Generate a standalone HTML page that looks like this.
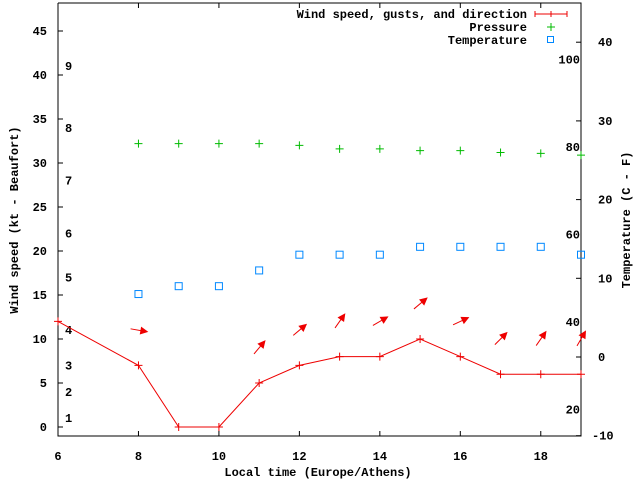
<!DOCTYPE html>
<html><head><meta charset="utf-8"><style>
body{margin:0;background:#fff}
text{font-family:"Liberation Mono",monospace;font-weight:bold;font-size:12px;fill:#000}
</style></head><body>
<svg id="c" width="640" height="480" xmlns="http://www.w3.org/2000/svg">
<g id="axes"></g><g id="marks"></g>
<text x="318" y="476" text-anchor="middle">Local time (Europe/Athens)</text>
<text transform="translate(18,220) rotate(-90)" text-anchor="middle">Wind speed (kt - Beaufort)</text>
<text transform="translate(630,220) rotate(-90)" text-anchor="middle">Temperature (C - F)</text>
<g>
<text x="527" y="18" text-anchor="end">Wind speed, gusts, and direction</text>
<path d="M535,14H567M535,11v6M551,11v6M567,11v6" stroke="#e00" fill="none"/>
<text x="527" y="31" text-anchor="end">Pressure</text>
<path d="M547,27h8M551,23v8" stroke="#0b0"/>
<text x="527" y="44" text-anchor="end">Temperature</text>
<rect x="547.5" y="36.5" width="6" height="6" fill="none" stroke="#08f"/>
</g>
</svg>
<script>
const hours=[6,8,9,10,11,12,13,14,15,16,17,18,19];
const wind=[12,7,0,0,5,7,8,8,10,8,6,6,6];
const pHours=[8,9,10,11,12,13,14,15,16,17,18,19];
const pressure=[32.2,32.2,32.2,32.2,32.0,31.6,31.6,31.4,31.4,31.2,31.1,30.9];
const tHours=[8,9,10,11,12,13,14,15,16,17,18,19];
const temperature=[8,9,9,11,13,13,13,14,14,14,14,13];
const dirHours=[8,11,12,13,14,15,16,17,18,19];
const dirY=[11,9,11,12,12,14,12,10,10,10];
const dirAngle=[-10,50,40,55,30,40,25,45,55,60];
const xTicks=[6,8,10,12,14,16,18];
const yTicks=[0,5,10,15,20,25,30,35,40,45];
const y2Ticks=[-10,0,10,20,30,40];
const beaufort=[[1,1],[2,2],[3,3],[4,4],[5,5],[6,6],[7,7],[8,8],[9,9]];
const beaufortKt=[1,4,7,11,17,22,28,34,41];
const fahr=[20,40,60,80,100];
const L=58,R=581,T=3,B=436;
const X=h=>L+(h-6)*(R-L)/13;
const Y=v=>427-v*8.8;
const Y2=c=>357-c*7.87;
const NS='http://www.w3.org/2000/svg';
const ax=document.getElementById('axes'),mk=document.getElementById('marks');
function el(p,t,a){const e=document.createElementNS(NS,t);for(const k in a)e.setAttribute(k,a[k]);p.appendChild(e);return e;}
let f=el(ax,'path',{d:`M${L},${T}V${B}H${R}V${T}H${L}`,stroke:'#000',fill:'none'});


xTicks.forEach(h=>{const x=X(h);
 const t=el(ax,'path',{d:`M${x},${B}v-5M${x},${T}v5`,stroke:'#000'});
 
 
 const l=el(ax,'text',{x:x,y:B+24,'text-anchor':'middle'});l.textContent=h;
 
 });
yTicks.forEach(v=>{const y=Y(v);
 const t=el(ax,'path',{d:`M${L},${y}h5`,stroke:'#000'});
 
 
 const l=el(ax,'text',{x:47,y:y+4,'text-anchor':'end'});l.textContent=v;
 
 });
y2Ticks.forEach(v=>{const y=Y2(v);
 const t=el(ax,'path',{d:`M${R},${y}h-5`,stroke:'#000'});
 
 
 const l=el(ax,'text',{x:v<0?592:598,y:y+4});l.textContent=v;
 
 });
beaufortKt.forEach((k,i)=>{const l=el(ax,'text',{x:65,y:Y(k)+4});l.textContent=beaufort[i][1];
 
 });
fahr.forEach(F=>{const l=el(ax,'text',{x:580,y:Y2((F-32)*5/9)+4,'text-anchor':'end'});l.textContent=F;
 
 });
const line=el(mk,'polyline',{points:hours.map((h,i)=>X(h)+','+Y(wind[i])).join(' '),fill:'none',stroke:'#e00'});


hours.forEach((h,i)=>{const x=X(h),y=Y(wind[i]);
 const p=el(mk,'path',{d:`M${x-4},${y}h8M${x},${y-4}v8`,stroke:'#e00'});
 
 });
pHours.forEach((h,i)=>{const x=X(h),y=Y(pressure[i]);
 const p=el(mk,'path',{d:`M${x-4},${y}h8M${x},${y-4}v8`,stroke:'#0b0'});
 
 });
tHours.forEach((h,i)=>{const x=X(h),y=Y2(temperature[i]);
 const p=el(mk,'rect',{x:x-3.5,y:y-3.5,width:7,height:7,fill:'none',stroke:'#08f'});
 
 });
dirHours.forEach((h,i)=>{const cx=X(h),cy=Y(dirY[i]),a=dirAngle[i]*Math.PI/180;
 const dx=Math.cos(a),dy=-Math.sin(a);
 const x1=cx-8*dx,y1=cy-8*dy,x2=cx+8*dx,y2=cy+8*dy;
 const px=-dy,py=dx;
 const g=el(mk,'g',{});
 
 
 el(g,'line',{x1:x1,y1:y1,x2:x2,y2:y2,stroke:'#e00'});
 el(g,'polygon',{points:`${x2+2*dx},${y2+2*dy} ${x2-6*dx+4*px},${y2-6*dy+4*py} ${x2-6*dx-4*px},${y2-6*dy-4*py}`,fill:'#e00'});});
</script>
</body></html>
